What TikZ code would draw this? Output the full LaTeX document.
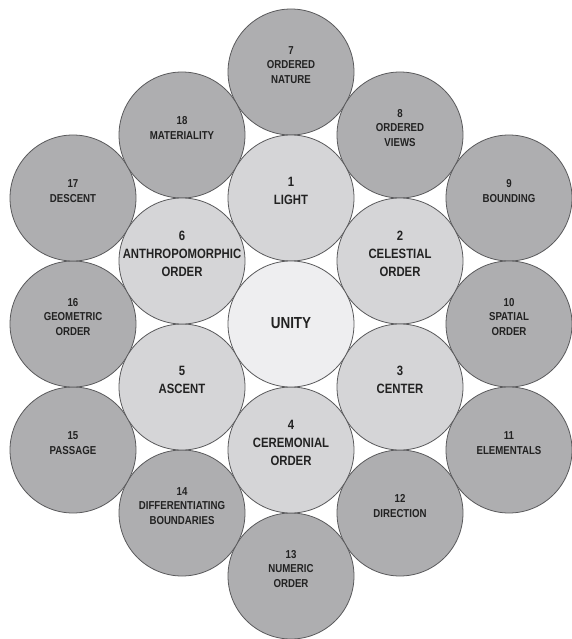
\documentclass[tikz,border=0pt]{standalone}
\usepackage{fontspec}
\setmainfont[FakeStretch=0.84]{Liberation Sans}
\definecolor{outerfill}{HTML}{AEAEB0}
\definecolor{innerfill}{HTML}{D5D5D7}
\definecolor{unityfill}{HTML}{EEEEF0}
\definecolor{ringline}{HTML}{5A5A5C}
\definecolor{txt}{HTML}{222222}
\begin{document}
\begin{tikzpicture}[x=1pt,y=-1pt,
  ring/.style={circle, draw=ringline, line width=0.8pt, minimum size=126pt, inner sep=0pt},
  outerc/.style={ring, fill=outerfill},
  innerc/.style={ring, fill=innerfill},
  unityc/.style={ring, fill=unityfill},
  otext/.style={font=\bfseries\fontsize{11.5}{14.5}\selectfont, align=center, text=txt, inner sep=0pt},
  itext/.style={font=\bfseries\fontsize{13.5}{18}\selectfont, align=center, text=txt, inner sep=0pt},
  utext/.style={font=\bfseries\fontsize{16}{19}\selectfont, align=center, text=txt, inner sep=0pt}]
\useasboundingbox (0,0) rectangle (572,639);
% outer ring
\node[outerc] (c7)  at (291,72)  {};
\node[outerc] (c8)  at (400,135) {};
\node[outerc] (c9)  at (509,198) {};
\node[outerc] (c10) at (509,324) {};
\node[outerc] (c11) at (509,450) {};
\node[outerc] (c12) at (400,513) {};
\node[outerc] (c13) at (291,576) {};
\node[outerc] (c14) at (182,513) {};
\node[outerc] (c15) at (73,450)  {};
\node[outerc] (c16) at (73,324)  {};
\node[outerc] (c17) at (73,198)  {};
\node[outerc] (c18) at (182,135) {};
% inner ring
\node[innerc] (c1) at (291,198) {};
\node[innerc] (c2) at (400,261) {};
\node[innerc] (c3) at (400,387) {};
\node[innerc] (c4) at (291,450) {};
\node[innerc] (c5) at (182,387) {};
\node[innerc] (c6) at (182,261) {};
% centre
\node[unityc] (c0) at (291,324) {};
% texts
\node[utext] (t0) at ([yshift=0.5pt]c0.center) {UNITY};
\node[itext] (t1) at ([yshift=7.5pt]c1.center) {1\\LIGHT};
\node[itext] (t2) at ([yshift=7.5pt]c2.center) {2\\CELESTIAL\\ORDER};
\node[itext] (t3) at ([yshift=7.5pt]c3.center) {3\\CENTER};
\node[itext] (t4) at ([yshift=7.5pt]c4.center) {4\\CEREMONIAL\\ORDER};
\node[itext] (t5) at ([yshift=7.5pt]c5.center) {5\\ASCENT};
\node[itext] (t6) at ([yshift=7.5pt]c6.center) {6\\ANTHROPOMORPHIC\\ORDER};
\node[otext] (t7)  at ([yshift=7pt]c7.center)  {7\\ORDERED\\NATURE};
\node[otext] (t8)  at ([yshift=7pt]c8.center)  {8\\ORDERED\\VIEWS};
\node[otext] (t9)  at ([yshift=7pt]c9.center)  {9\\BOUNDING};
\node[otext] (t10) at ([yshift=7pt]c10.center) {10\\SPATIAL\\ORDER};
\node[otext] (t11) at ([yshift=7pt]c11.center) {11\\ELEMENTALS};
\node[otext] (t12) at ([yshift=7pt]c12.center) {12\\DIRECTION};
\node[otext] (t13) at ([yshift=7pt]c13.center) {13\\NUMERIC\\ORDER};
\node[otext] (t14) at ([yshift=7pt]c14.center) {14\\DIFFERENTIATING\\BOUNDARIES};
\node[otext] (t15) at ([yshift=7pt]c15.center) {15\\PASSAGE};
\node[otext] (t16) at ([yshift=7pt]c16.center) {16\\GEOMETRIC\\ORDER};
\node[otext] (t17) at ([yshift=7pt]c17.center) {17\\DESCENT};
\node[otext] (t18) at ([yshift=7pt]c18.center) {18\\MATERIALITY};
\end{tikzpicture}
\end{document}
